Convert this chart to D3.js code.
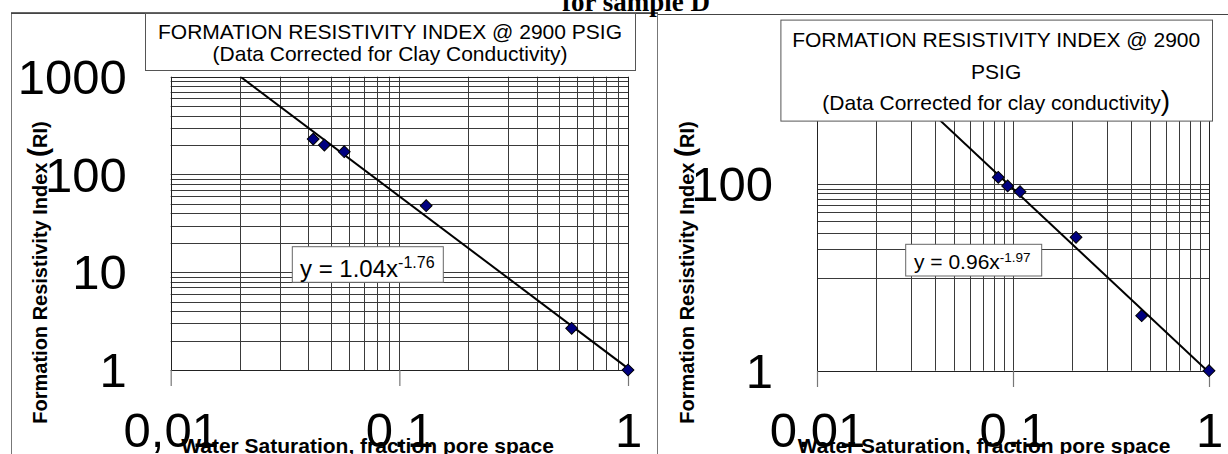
<!DOCTYPE html>
<html><head><meta charset="utf-8">
<script src="https://cdn.jsdelivr.net/npm/d3@7"></script>
<style>
body{margin:0;background:#fff;overflow:hidden;}
svg{display:block;font-family:Arial,"Liberation Sans",sans-serif;}
</style>
</head><body>
<svg id="c" width="1228" height="454"></svg>
<script>
// ---------- data ----------
const leftSw  = [0.042, 0.047, 0.0574, 0.131, 0.567, 1.0];
const leftRI  = [230, 200, 171, 47.9, 2.67, 1.0];
const rightSw = [0.0841, 0.0939, 0.1086, 0.2097, 0.4535, 1.0];
const rightRI = [119, 95.9, 83.3, 27.0, 3.89, 1.0];
const fitCoef = [1.04, 0.96];
const fitExp  = [-1.76, -1.97];
const xTickValues = [0.01, 0.1, 1];
const leftXTickLabels  = ["0,01", "0.1", "1"];
const rightXTickLabels = ["0.01", "0.1", "1"];
const leftYTickValues  = [1, 10, 100, 1000];
const leftYTickLabels  = ["1", "10", "100", "1000"];
const rightYTickValues = [1, 100];
const rightYTickLabels = ["1", "100"];
const chartTitle = "for sample D";
const leftTitleLines  = ["FORMATION RESISTIVITY INDEX @ 2900 PSIG", "(Data Corrected for Clay Conductivity)"];
const rightTitleLines = ["FORMATION RESISTIVITY INDEX @ 2900", "PSIG", "(Data Corrected for clay conductivity"];
const yAxisTitle = "Formation Resistivity Index ";
const xAxisTitle = "Water Saturation, fraction pore space";

// ---------- layout ----------
const svg = d3.select("#c");
const GRID = "#3a3a3a";

// minor log values helper
function logSteps(lo, hi){
  const out=[];
  for(let e=Math.floor(Math.log10(lo)); e<=Math.ceil(Math.log10(hi)); e++){
    for(let m=1;m<=9;m++){ const v=m*Math.pow(10,e); if(v>=lo*0.9999 && v<=hi*1.0001) out.push(v); }
  }
  return out;
}

// panel borders
svg.append("rect").attr("x",11.5).attr("y",13.5).attr("width",646).attr("height",500)
  .attr("fill","none").attr("stroke","#777").attr("stroke-width",1);
svg.append("rect").attr("x",657.5).attr("y",14.5).attr("width",700).attr("height",500)
  .attr("fill","none").attr("stroke","#777").attr("stroke-width",1);
svg.append("line").attr("x1",11).attr("x2",658).attr("y1",13).attr("y2",13).attr("stroke","#333").attr("stroke-width",1.5);
svg.append("line").attr("x1",658).attr("x2",1228).attr("y1",14.5).attr("y2",14.5).attr("stroke","#444").attr("stroke-width",1.2);

// top title (clipped at top)
svg.append("text").attr("x",636).attr("y",11).attr("text-anchor","middle")
  .attr("font-family","'Liberation Serif','Times New Roman',serif").attr("font-weight","bold")
  .attr("font-size",27).text(chartTitle);

const panels = [
  { sw:leftSw, ri:leftRI, a:fitCoef[0], b:fitExp[0],
    xr:[170.7,628], yr:[370,76.7], yDom:[1,1000],
    hGrid:[1,1000], xLabels:leftXTickLabels, yVals:leftYTickValues, yLabels:leftYTickLabels,
    yTitleX:46.7, xTitleX:367.5,
    titleBox:[145,13,635,70], titleLines:leftTitleLines, titleY:[39.3,60.5], titleBig:false,
    eqBox:[292.3,246.7,443.3,282.3], eqX:300, eqY:276.7, eqFs:24, supFs:16, supDy:-8.5 },
  { sw:rightSw, ri:rightRI, a:fitCoef[1], b:fitExp[1],
    xr:[817,1209], yr:[370.7,91.1], yDom:[1,1000],
    hGrid:[10,100], xLabels:rightXTickLabels, yVals:rightYTickValues, yLabels:rightYTickLabels,
    yTitleX:693.5, xTitleX:984,
    titleBox:[780.4,19.6,1212,120.6], titleLines:rightTitleLines, titleY:[47,78.5,110], titleBig:true,
    eqBox:[905.7,244.3,1041.7,276], eqX:914, eqY:269, eqFs:21, supFs:13.5, supDy:-7.5 }
];

panels.forEach((p,pi)=>{
  const x = d3.scaleLog().domain([0.01,1]).range(p.xr);
  const y = d3.scaleLog().domain(p.yDom).range(p.yr);
  const g = svg.append("g");
  const clipId = "clip"+pi;
  svg.append("clipPath").attr("id",clipId).append("rect")
    .attr("x",p.xr[0]).attr("y",p.yr[1]).attr("width",p.xr[1]-p.xr[0]).attr("height",p.yr[0]-p.yr[1]);

  // vertical gridlines
  g.selectAll("line.vg").data(logSteps(0.01,1)).join("line")
    .attr("x1",d=>Math.round(x(d))+0.5).attr("x2",d=>Math.round(x(d))+0.5)
    .attr("y1",p.yr[1]).attr("y2",p.yr[0])
    .attr("stroke",GRID).attr("stroke-width",1);
  // horizontal gridlines
  g.selectAll("line.hg").data(logSteps(p.hGrid[0],p.hGrid[1])).join("line")
    .attr("y1",d=>Math.round(y(d))+0.5).attr("y2",d=>Math.round(y(d))+0.5)
    .attr("x1",p.xr[0]).attr("x2",p.xr[1])
    .attr("stroke",GRID).attr("stroke-width",1);
  // plot border
  g.append("rect").attr("x",Math.round(p.xr[0])+0.5).attr("y",Math.round(p.yr[1])+0.5)
    .attr("width",Math.round(p.xr[1]-p.xr[0])).attr("height",Math.round(p.yr[0]-p.yr[1]))
    .attr("fill","none").attr("stroke","#222").attr("stroke-width",1);

  // x axis (major ticks extending below + big labels)
  const xa = g.append("g").attr("transform",`translate(0,${Math.round(p.yr[0])})`)
    .call(d3.axisBottom(x).tickValues(xTickValues).tickSize(16)
      .tickFormat((d,i)=>p.xLabels[i]));
  xa.select(".domain").remove();
  xa.selectAll(".tick line").attr("stroke","#777").attr("stroke-width",1.2);
  xa.selectAll(".tick text").attr("y",447-Math.round(p.yr[0])).attr("dy",0)
    .attr("font-size",49).attr("font-family","Arial,'Liberation Sans',sans-serif").attr("fill","#000");

  // y axis labels
  const ya = g.append("g").attr("transform",`translate(${p.xr[0]},0)`)
    .call(d3.axisLeft(y).tickValues(p.yVals).tickSize(0).tickPadding(44)
      .tickFormat(d=>p.yLabels[p.yVals.indexOf(d)]));
  ya.select(".domain").remove();
  ya.selectAll(".tick text").attr("dy","0.34em").attr("font-size",49)
    .attr("font-family","Arial,'Liberation Sans',sans-serif").attr("fill","#000");

  // fit line y = a x^b
  const xTop = Math.pow(p.yDom[1]/p.a, 1/p.b);
  const fitPts = [xTop, 1].map(v=>[x(v), y(p.a*Math.pow(v,p.b))]);
  g.append("path").attr("clip-path",`url(#${clipId})`)
    .attr("d", d3.line()(fitPts)).attr("stroke","#000").attr("stroke-width",2).attr("fill","none");

  // data points
  g.selectAll("path.pt").data(p.sw.map((v,i)=>[v,p.ri[i]])).join("path")
    .attr("d", d3.symbol(d3.symbolSquare, 70)())
    .attr("transform",d=>`translate(${x(d[0])},${y(d[1])}) rotate(45)`)
    .attr("fill","#000080").attr("stroke","#000").attr("stroke-width",1);

  // equation box
  const eb = p.eqBox;
  g.append("rect").attr("x",eb[0]).attr("y",eb[1]).attr("width",eb[2]-eb[0]).attr("height",eb[3]-eb[1])
    .attr("fill","#fff").attr("stroke","#666").attr("stroke-width",1);
  const et = g.append("text").attr("x",p.eqX).attr("y",p.eqY).attr("font-size",p.eqFs).attr("fill","#000");
  et.append("tspan").text(`y = ${p.a.toFixed(2)}x`);
  et.append("tspan").attr("font-size",p.supFs).attr("dy",p.supDy).text(String(p.b.toFixed(2)));

  // title box
  const tb = p.titleBox;
  g.append("rect").attr("x",tb[0]+0.5).attr("y",tb[1]+0.5).attr("width",tb[2]-tb[0]).attr("height",tb[3]-tb[1])
    .attr("fill","#fff").attr("stroke","#555").attr("stroke-width",1);
  const cx = (tb[0]+tb[2])/2;
  p.titleLines.forEach((ln,i)=>{
    const t = g.append("text").attr("x",cx).attr("y",p.titleY[i]).attr("text-anchor","middle")
      .attr("font-size",21).attr("fill","#000");
    t.append("tspan").text(ln);
    if(p.titleBig && i===p.titleLines.length-1) t.append("tspan").attr("font-size",28).text(")");
  });

  // y axis title
  const yt = g.append("text").attr("transform",`translate(${p.yTitleX},272.5) rotate(-90)`)
    .attr("text-anchor","middle").attr("font-weight","bold").attr("font-size",20).attr("fill","#000");
  yt.append("tspan").text(yAxisTitle);
  yt.append("tspan").attr("font-size",27).text("(");
  yt.append("tspan").text("RI)");

  // x axis title
  g.append("text").attr("x",p.xTitleX).attr("y",453).attr("text-anchor","middle")
    .attr("font-weight","bold").attr("font-size",21).attr("fill","#000").text(xAxisTitle);
});
</script>
</body></html>
